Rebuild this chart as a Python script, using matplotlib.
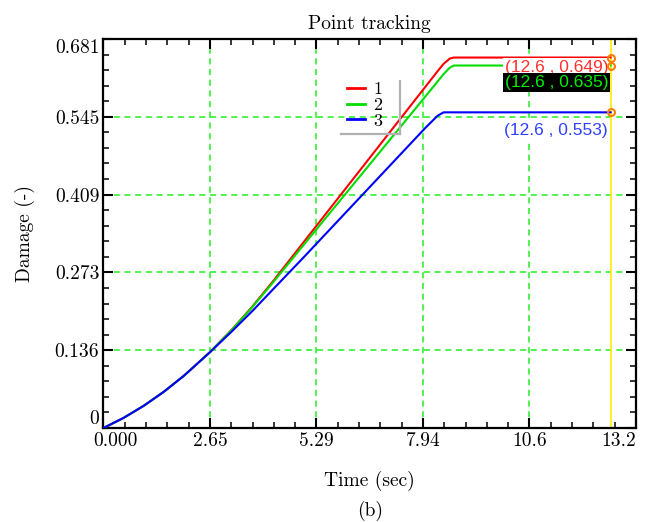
import numpy as np
import matplotlib
matplotlib.use("Agg")
import matplotlib.pyplot as plt
from matplotlib.lines import Line2D
from matplotlib.transforms import ScaledTranslation, IdentityTransform

# -------------------- data --------------------
time = [0, 0.5, 1.0, 1.5, 2.0, 2.65, 3.2, 3.7, 4.2, 5.0, 6.0, 7.0, 8.0,
        8.3, 8.45, 8.6, 8.7, 12.6]
damage_1 = [0, 0.0177, 0.0389, 0.0635, 0.0916, 0.1333, 0.1731, 0.2129, 0.256,
            0.328, 0.418, 0.508, 0.598, 0.625, 0.638, 0.647, 0.649, 0.649]
damage_2 = [0, 0.0177, 0.0389, 0.0635, 0.0916, 0.1333, 0.1728, 0.2120, 0.254,
            0.323, 0.409, 0.495, 0.581, 0.607, 0.620, 0.631, 0.635, 0.635]
damage_3 = [0, 0.0177, 0.0389, 0.0635, 0.0916, 0.1330, 0.170, 0.205, 0.242,
            0.301, 0.376, 0.451, 0.526, 0.547, 0.553, 0.553, 0.553, 0.553]
series_names = ["1", "2", "3"]
track_time = 12.6
track_values = [0.649, 0.635, 0.553]

x_max = 13.23
y_max = 0.6815
x_tick_labels = ["0.000", "2.65", "5.29", "7.94", "10.6", "13.2"]
y_tick_labels = ["0", "0.136", "0.273", "0.409", "0.545", "0.681"]

colors = ["#ff0000", "#00dd00", "#0000ff"]

# -------------------- figure --------------------
fig = plt.figure(figsize=(6.46, 5.22), dpi=100)
ax = fig.add_axes([0.1602, 0.1801, 0.8243, 0.7452])
serif = "cmr10"

for vals, c, name in zip([damage_1, damage_2, damage_3], colors, series_names):
    ax.plot(time, vals, color=c, lw=1.5, label=name, zorder=3)

ax.axvline(track_time, color="#ffee00", lw=1.2, zorder=2)
ax.plot([track_time] * 3, track_values, "o", ms=5, mfc="none", mec="#ff8000",
        mew=1.5, zorder=5, clip_on=False)

# annotations of the tracked points
lab_style = [
    dict(color="#ff3030", bg="white", off=(-106, -10)),
    dict(color="#00ee00", bg="black", off=(-106, -17)),
    dict(color="#3040ff", bg="white", off=(-107, -18)),
]
for v, st in zip(track_values, lab_style):
    ax.annotate(f"({track_time} , {v:.3f})", (track_time, v),
                xytext=st["off"], textcoords="offset pixels",
                ha="left", va="center", fontsize=12.5, family="Liberation Sans",
                color=st["color"], zorder=4,
                bbox=dict(boxstyle="square,pad=0.12", fc=st["bg"], ec="none"))

ax.set_xlim(0, x_max)
ax.set_ylim(0, y_max)
ax.set_xticks(np.linspace(0, x_max, 6))
ax.set_yticks(np.linspace(0, y_max, 6))
ax.set_xticks(np.linspace(0, x_max, 26), minor=True)
ax.set_yticks(np.linspace(0, y_max, 26), minor=True)
ax.set_xticklabels(x_tick_labels, family=serif, fontsize=14)
ax.set_yticklabels(y_tick_labels, family=serif, fontsize=14)

ax.tick_params(which="both", direction="in", top=True, right=True)
ax.tick_params(which="major", length=7.2, width=1.5, pad=3)
ax.tick_params(which="minor", length=4, width=1.1)
for s in ax.spines.values():
    s.set_linewidth(1.6)

ax.grid(True, which="major", color="#22ee22", ls=(0, (4, 3)), lw=1.1, zorder=1)
ax.set_axisbelow(True)

# end tick labels pushed inside like the original tool does
xl = ax.get_xticklabels()
xl[0].set_ha("left")
xl[0].set_transform(xl[0].get_transform() + ScaledTranslation(-0.10, 0, fig.dpi_scale_trans))
xl[-1].set_ha("right")
yl = ax.get_yticklabels()
yl[0].set_va("bottom")
yl[-1].set_va("top")

ax.set_title("Point tracking", family=serif, fontsize=14, pad=7)
ax.set_xlabel("Time (sec)", family=serif, fontsize=14, labelpad=15)
ax.set_ylabel("Damage (-)", family=serif, fontsize=14, labelpad=14)
fig.text(0.573, 1 - 511 / 522, "(b)", family=serif, fontsize=14,
         ha="center", va="center")

leg = ax.legend(loc="upper left", bbox_to_anchor=(0.43, 0.927), frameon=False,
                prop=dict(family=serif, size=13), handlelength=1.0,
                handletextpad=0.45, labelspacing=0.0, borderpad=0.3)
for h in leg.legend_handles:
    h.set_linewidth(2)

# grey shadow on right and bottom of legend
fig.canvas.draw()
bb = leg.get_window_extent()
sx1 = bb.x1 + 12
sy1 = bb.y1 - 5
shadow = dict(color="#b0b0b0", lw=1.6, transform=IdentityTransform())
fig.add_artist(Line2D([sx1, sx1], [bb.y0, sy1], **shadow))
fig.add_artist(Line2D([bb.x0, sx1], [bb.y0, bb.y0], **shadow))

fig.savefig("out.png", dpi=100)
